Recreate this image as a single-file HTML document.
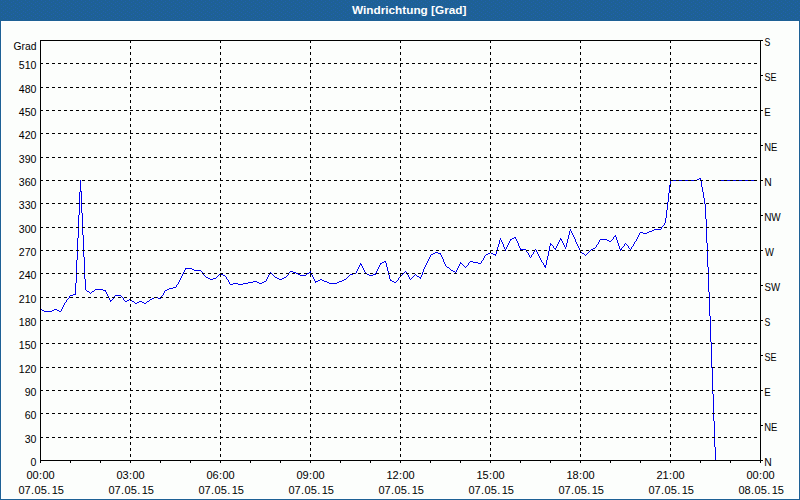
<!DOCTYPE html>
<html><head><meta charset="utf-8"><title>Windrichtung [Grad]</title>
<style>
html,body{margin:0;padding:0;background:#fcfefc;}
body{width:800px;height:500px;overflow:hidden;font-family:"Liberation Sans",sans-serif;}
svg{display:block;position:absolute;left:0;top:0;}
text{font-family:"Liberation Sans",sans-serif;font-size:11px;fill:#000;}
.t{font-weight:bold;fill:#fff;}
.g{stroke:#000;stroke-width:1;stroke-dasharray:3 3;shape-rendering:crispEdges;fill:none;}
.a{stroke:#000;stroke-width:1;shape-rendering:crispEdges;fill:none;}
</style></head><body>
<svg width="800" height="500" viewBox="0 0 800 500">
<rect x="0" y="0" width="800" height="500" fill="#1e6195"/>
<rect x="1" y="21" width="798" height="478" fill="#ffffff"/>
<rect x="2" y="22" width="796" height="476" fill="#fcfefc"/>
<defs><pattern id="dz" width="8" height="4" patternUnits="userSpaceOnUse"><path fill="#2060b0" shape-rendering="crispEdges" d="M1 0h1v1h-1zM5 1h1v1h-1zM3 2h1v1h-1zM7 3h1v1h-1z"/></pattern></defs>
<rect x="0" y="0" width="800" height="21" fill="#1e6195"/>
<rect x="0" y="0" width="800" height="20" fill="url(#dz)"/>
<text class="t" x="409.2" y="14" text-anchor="middle" textLength="114.5" lengthAdjust="spacingAndGlyphs">Windrichtung [Grad]</text>

<path fill="#0000f0" shape-rendering="crispEdges" d="M40 309h2v1h-2zM42 310h2v1h-2zM44 311h8v1h-8zM52 310h2v1h-2zM54 309h3v1h-3zM57 310h2v1h-2zM59 311h2v1h-2zM61 309h1v2h-1zM62 307h1v2h-1zM63 305h1v2h-1zM64 303h1v2h-1zM65 302h1v1h-1zM66 300h1v2h-1zM67 299h1v1h-1zM68 298h1v1h-1zM69 296h1v2h-1zM70 295h3v1h-3zM73 294h3v1h-3zM75 283h1v11h-1zM76 260h1v23h-1zM77 238h1v22h-1zM78 215h1v23h-1zM79 192h1v23h-1zM80 180h1v11h-1zM80 191h2v1h-2zM81 192h1v21h-1zM82 213h1v22h-1zM83 235h1v22h-1zM84 257h1v22h-1zM85 279h1v11h-1zM86 290h1v1h-1zM87 291h2v1h-2zM89 292h1v1h-1zM90 293h1v1h-1zM91 292h1v1h-1zM92 291h2v1h-2zM94 290h1v1h-1zM95 289h8v1h-8zM103 290h3v1h-3zM105 291h1v1h-1zM106 292h1v2h-1zM107 294h1v2h-1zM108 296h1v2h-1zM109 298h1v2h-1zM110 300h2v1h-2zM110 301h1v1h-1zM112 299h1v1h-1zM113 297h1v2h-1zM114 296h1v1h-1zM115 295h6v1h-6zM121 296h1v1h-1zM122 297h1v1h-1zM123 298h1v2h-1zM124 300h1v1h-1zM125 301h2v1h-2zM127 300h2v1h-2zM129 299h2v1h-2zM131 300h1v1h-1zM132 301h2v1h-2zM134 302h1v1h-1zM135 303h2v1h-2zM137 302h2v1h-2zM139 301h3v1h-3zM142 302h2v1h-2zM144 303h2v1h-2zM146 302h1v1h-1zM147 301h2v1h-2zM149 300h1v1h-1zM150 299h2v1h-2zM152 298h2v1h-2zM154 297h4v1h-4zM158 298h3v1h-3zM161 296h1v2h-1zM162 295h1v1h-1zM163 293h1v2h-1zM164 291h1v2h-1zM165 290h2v1h-2zM167 289h2v1h-2zM169 288h4v1h-4zM173 287h3v1h-3zM176 285h1v2h-1zM177 284h1v1h-1zM178 282h1v2h-1zM179 280h1v2h-1zM180 278h1v2h-1zM181 276h1v2h-1zM182 274h1v2h-1zM183 272h1v2h-1zM184 270h1v2h-1zM185 268h7v1h-7zM185 269h1v1h-1zM192 269h2v1h-2zM194 270h7v1h-7zM201 271h1v1h-1zM202 272h1v1h-1zM203 273h1v2h-1zM204 275h1v1h-1zM205 276h1v1h-1zM206 277h2v1h-2zM208 278h2v1h-2zM210 279h3v1h-3zM213 278h3v1h-3zM216 277h1v1h-1zM217 276h1v1h-1zM218 275h1v1h-1zM219 274h1v1h-1zM220 273h1v1h-1zM221 274h2v1h-2zM223 275h2v1h-2zM225 276h1v1h-1zM226 277h1v2h-1zM227 279h1v1h-1zM228 280h1v2h-1zM229 282h1v2h-1zM230 284h3v1h-3zM233 283h5v1h-5zM238 284h5v1h-5zM243 283h5v1h-5zM248 282h5v1h-5zM253 281h4v1h-4zM257 282h2v1h-2zM259 283h3v1h-3zM262 282h2v1h-2zM264 281h2v1h-2zM266 279h1v2h-1zM267 277h1v2h-1zM268 275h1v2h-1zM269 273h1v2h-1zM270 272h1v1h-1zM271 273h1v1h-1zM272 274h1v1h-1zM273 275h1v1h-1zM274 276h1v1h-1zM275 277h2v1h-2zM277 278h2v1h-2zM279 279h3v1h-3zM282 278h2v1h-2zM284 277h2v1h-2zM286 276h1v1h-1zM287 275h1v1h-1zM288 273h1v2h-1zM289 272h1v1h-1zM290 271h3v1h-3zM293 272h3v1h-3zM296 273h2v1h-2zM298 274h2v1h-2zM300 275h6v1h-6zM306 274h1v1h-1zM307 273h2v1h-2zM309 272h2v1h-2zM310 271h1v1h-1zM311 273h1v2h-1zM312 275h1v2h-1zM313 277h1v2h-1zM314 279h1v2h-1zM315 281h3v1h-3zM315 282h1v1h-1zM318 280h2v1h-2zM320 279h2v1h-2zM322 280h2v1h-2zM324 281h3v1h-3zM327 282h2v1h-2zM329 283h8v1h-8zM337 282h2v1h-2zM339 281h3v1h-3zM342 280h2v1h-2zM344 279h2v1h-2zM346 278h1v1h-1zM347 277h1v1h-1zM348 276h1v1h-1zM349 275h1v1h-1zM350 274h3v1h-3zM353 273h3v1h-3zM356 271h1v2h-1zM357 269h1v2h-1zM358 267h1v2h-1zM359 265h1v2h-1zM360 263h1v1h-1zM360 264h2v1h-2zM361 265h1v1h-1zM362 266h1v2h-1zM363 268h1v2h-1zM364 270h1v2h-1zM365 272h1v1h-1zM365 273h2v1h-2zM367 274h2v1h-2zM369 275h4v1h-4zM373 274h3v1h-3zM375 273h1v1h-1zM376 271h1v2h-1zM377 269h1v2h-1zM378 267h1v2h-1zM379 265h1v2h-1zM380 263h2v1h-2zM380 264h1v1h-1zM382 262h2v1h-2zM384 261h2v1h-2zM385 262h1v1h-1zM386 263h1v4h-1zM387 267h1v4h-1zM388 271h1v4h-1zM389 275h1v4h-1zM390 279h1v1h-1zM390 280h2v1h-2zM392 281h2v1h-2zM394 282h2v1h-2zM396 281h1v1h-1zM397 280h1v1h-1zM398 278h1v2h-1zM399 277h1v1h-1zM400 276h1v1h-1zM401 275h1v1h-1zM402 274h1v1h-1zM403 273h1v1h-1zM404 272h1v1h-1zM405 271h1v1h-1zM406 272h1v2h-1zM407 274h1v1h-1zM408 275h1v2h-1zM409 277h1v2h-1zM410 279h1v1h-1zM411 278h1v1h-1zM412 277h1v1h-1zM413 276h1v1h-1zM414 275h1v1h-1zM415 274h1v1h-1zM416 275h1v1h-1zM417 276h2v1h-2zM419 277h2v1h-2zM420 278h1v1h-1zM421 275h1v2h-1zM422 272h1v3h-1zM423 269h1v3h-1zM424 267h1v2h-1zM425 265h1v2h-1zM426 263h1v2h-1zM427 261h1v2h-1zM428 259h1v2h-1zM429 257h1v2h-1zM430 255h1v2h-1zM431 254h2v1h-2zM433 253h2v1h-2zM435 252h3v1h-3zM438 253h3v1h-3zM440 254h1v1h-1zM441 255h1v2h-1zM442 257h1v2h-1zM443 259h1v3h-1zM444 262h1v2h-1zM445 264h1v2h-1zM446 266h1v1h-1zM447 267h2v1h-2zM449 268h1v1h-1zM450 269h1v1h-1zM451 270h2v1h-2zM453 271h2v1h-2zM455 272h1v1h-1zM456 270h1v2h-1zM457 268h1v2h-1zM458 266h1v2h-1zM459 264h1v2h-1zM460 262h1v1h-1zM460 263h2v1h-2zM462 264h1v1h-1zM463 265h1v1h-1zM464 266h1v1h-1zM465 267h1v1h-1zM466 266h1v1h-1zM467 265h1v1h-1zM468 263h1v2h-1zM469 262h1v1h-1zM470 261h3v1h-3zM473 262h5v1h-5zM478 263h3v1h-3zM481 261h1v2h-1zM482 260h1v1h-1zM483 258h1v2h-1zM484 256h1v2h-1zM485 255h1v1h-1zM486 254h2v1h-2zM488 253h2v1h-2zM490 252h1v1h-1zM491 253h2v1h-2zM493 254h3v1h-3zM495 255h1v1h-1zM496 250h1v4h-1zM497 247h1v3h-1zM498 244h1v3h-1zM499 240h1v4h-1zM500 238h1v2h-1zM501 240h1v2h-1zM502 242h1v2h-1zM503 244h1v3h-1zM504 247h1v2h-1zM505 249h1v2h-1zM506 247h1v2h-1zM507 245h1v2h-1zM508 243h1v2h-1zM509 241h1v2h-1zM510 239h2v1h-2zM510 240h1v1h-1zM512 238h2v1h-2zM514 237h2v1h-2zM515 238h1v1h-1zM516 239h1v2h-1zM517 241h1v2h-1zM518 243h1v3h-1zM519 246h1v2h-1zM520 248h1v1h-1zM520 249h6v1h-6zM526 250h1v2h-1zM527 252h1v1h-1zM528 253h1v2h-1zM529 255h1v2h-1zM530 257h1v1h-1zM531 255h1v2h-1zM532 254h1v1h-1zM533 252h1v2h-1zM534 250h1v2h-1zM535 249h1v1h-1zM536 250h1v2h-1zM537 252h1v2h-1zM538 254h1v2h-1zM539 256h1v2h-1zM540 258h1v2h-1zM541 260h1v2h-1zM542 262h1v1h-1zM543 263h1v2h-1zM544 265h2v2h-2zM545 267h1v1h-1zM546 260h1v5h-1zM547 256h1v4h-1zM548 251h1v5h-1zM549 246h1v5h-1zM550 243h1v1h-1zM550 244h2v1h-2zM550 245h1v1h-1zM552 245h1v1h-1zM553 246h1v2h-1zM554 248h2v1h-2zM555 249h1v1h-1zM556 246h1v2h-1zM557 244h1v2h-1zM558 242h1v2h-1zM559 240h1v2h-1zM560 238h1v1h-1zM560 239h2v1h-2zM561 240h1v1h-1zM562 241h1v2h-1zM563 243h1v2h-1zM564 245h1v2h-1zM565 247h1v2h-1zM566 243h1v4h-1zM567 239h1v4h-1zM568 235h1v4h-1zM569 231h1v4h-1zM570 229h1v2h-1zM571 231h1v2h-1zM572 233h1v2h-1zM573 235h1v2h-1zM574 237h1v2h-1zM575 239h1v3h-1zM576 242h1v2h-1zM577 244h1v2h-1zM578 246h1v2h-1zM579 248h1v2h-1zM580 250h1v2h-1zM581 252h1v1h-1zM582 253h2v1h-2zM584 254h1v1h-1zM585 255h1v1h-1zM586 254h1v1h-1zM587 253h1v1h-1zM588 252h1v1h-1zM589 251h1v1h-1zM590 250h1v1h-1zM591 249h2v1h-2zM593 248h2v1h-2zM595 247h1v1h-1zM596 245h1v2h-1zM597 244h1v1h-1zM598 242h1v2h-1zM599 240h1v2h-1zM600 239h7v1h-7zM607 240h2v1h-2zM609 241h2v1h-2zM611 240h1v1h-1zM612 239h1v1h-1zM613 237h1v2h-1zM614 236h2v1h-2zM615 235h1v1h-1zM616 237h1v3h-1zM617 240h1v3h-1zM618 243h1v3h-1zM619 246h1v3h-1zM620 249h2v1h-2zM620 250h1v1h-1zM621 248h1v1h-1zM622 247h1v1h-1zM623 246h1v1h-1zM624 244h1v2h-1zM625 243h1v1h-1zM626 244h1v1h-1zM627 245h1v1h-1zM628 246h1v2h-1zM629 248h1v1h-1zM630 249h1v1h-1zM631 247h1v2h-1zM632 246h1v1h-1zM633 244h1v2h-1zM634 242h1v2h-1zM635 241h1v1h-1zM636 239h1v2h-1zM637 237h1v2h-1zM638 235h1v2h-1zM639 233h1v2h-1zM640 232h3v1h-3zM643 233h4v1h-4zM647 232h2v1h-2zM649 231h3v1h-3zM652 230h2v1h-2zM654 229h7v1h-7zM661 227h1v2h-1zM662 226h1v1h-1zM663 225h1v1h-1zM664 223h1v2h-1zM665 218h1v5h-1zM666 210h1v8h-1zM667 202h1v8h-1zM668 193h1v9h-1zM669 185h1v8h-1zM670 180h27v1h-27zM670 181h1v4h-1zM697 179h2v1h-2zM699 178h2v1h-2zM700 179h1v2h-1zM701 181h1v6h-1zM702 187h1v5h-1zM703 192h1v6h-1zM704 198h1v6h-1zM705 204h1v15h-1zM706 219h1v24h-1zM707 243h1v24h-1zM708 267h1v25h-1zM709 292h1v24h-1zM710 316h1v26h-1zM711 342h1v26h-1zM712 368h1v26h-1zM713 394h1v27h-1zM714 421h1v26h-1zM715 447h1v14h-1zM720 180h36v1h-36z"/>
<line class="g" x1="40" x2="760" y1="437.5" y2="437.5"/>
<line class="g" x1="40" x2="760" y1="413.5" y2="413.5"/>
<line class="g" x1="40" x2="760" y1="390.5" y2="390.5"/>
<line class="g" x1="40" x2="760" y1="367.5" y2="367.5"/>
<line class="g" x1="40" x2="760" y1="343.5" y2="343.5"/>
<line class="g" x1="40" x2="760" y1="320.5" y2="320.5"/>
<line class="g" x1="40" x2="760" y1="297.5" y2="297.5"/>
<line class="g" x1="40" x2="760" y1="273.5" y2="273.5"/>
<line class="g" x1="40" x2="760" y1="250.5" y2="250.5"/>
<line class="g" x1="40" x2="760" y1="227.5" y2="227.5"/>
<line class="g" x1="40" x2="760" y1="203.5" y2="203.5"/>
<line class="g" x1="40" x2="760" y1="180.5" y2="180.5"/>
<line class="g" x1="40" x2="760" y1="157.5" y2="157.5"/>
<line class="g" x1="40" x2="760" y1="133.5" y2="133.5"/>
<line class="g" x1="40" x2="760" y1="110.5" y2="110.5"/>
<line class="g" x1="40" x2="760" y1="87.5" y2="87.5"/>
<line class="g" x1="40" x2="760" y1="63.5" y2="63.5"/>
<line class="g" x1="130.5" x2="130.5" y1="40" y2="460"/>
<line class="g" x1="220.5" x2="220.5" y1="40" y2="460"/>
<line class="g" x1="310.5" x2="310.5" y1="40" y2="460"/>
<line class="g" x1="400.5" x2="400.5" y1="40" y2="460"/>
<line class="g" x1="490.5" x2="490.5" y1="40" y2="460"/>
<line class="g" x1="580.5" x2="580.5" y1="40" y2="460"/>
<line class="g" x1="670.5" x2="670.5" y1="40" y2="460"/>
<rect class="a" x="40.5" y="40.5" width="720" height="420"/>
<line class="a" x1="40.5" x2="40.5" y1="461" y2="463"/>
<line class="a" x1="70.5" x2="70.5" y1="461" y2="463"/>
<line class="a" x1="100.5" x2="100.5" y1="461" y2="463"/>
<line class="a" x1="130.5" x2="130.5" y1="461" y2="463"/>
<line class="a" x1="160.5" x2="160.5" y1="461" y2="463"/>
<line class="a" x1="190.5" x2="190.5" y1="461" y2="463"/>
<line class="a" x1="220.5" x2="220.5" y1="461" y2="463"/>
<line class="a" x1="250.5" x2="250.5" y1="461" y2="463"/>
<line class="a" x1="280.5" x2="280.5" y1="461" y2="463"/>
<line class="a" x1="310.5" x2="310.5" y1="461" y2="463"/>
<line class="a" x1="340.5" x2="340.5" y1="461" y2="463"/>
<line class="a" x1="370.5" x2="370.5" y1="461" y2="463"/>
<line class="a" x1="400.5" x2="400.5" y1="461" y2="463"/>
<line class="a" x1="430.5" x2="430.5" y1="461" y2="463"/>
<line class="a" x1="460.5" x2="460.5" y1="461" y2="463"/>
<line class="a" x1="490.5" x2="490.5" y1="461" y2="463"/>
<line class="a" x1="520.5" x2="520.5" y1="461" y2="463"/>
<line class="a" x1="550.5" x2="550.5" y1="461" y2="463"/>
<line class="a" x1="580.5" x2="580.5" y1="461" y2="463"/>
<line class="a" x1="610.5" x2="610.5" y1="461" y2="463"/>
<line class="a" x1="640.5" x2="640.5" y1="461" y2="463"/>
<line class="a" x1="670.5" x2="670.5" y1="461" y2="463"/>
<line class="a" x1="700.5" x2="700.5" y1="461" y2="463"/>
<line class="a" x1="730.5" x2="730.5" y1="461" y2="463"/>
<line class="a" x1="760.5" x2="760.5" y1="461" y2="463"/>
<line class="a" x1="761" x2="763" y1="40.5" y2="40.5"/>
<line class="a" x1="761" x2="763" y1="75.5" y2="75.5"/>
<line class="a" x1="761" x2="763" y1="110.5" y2="110.5"/>
<line class="a" x1="761" x2="763" y1="145.5" y2="145.5"/>
<line class="a" x1="761" x2="763" y1="180.5" y2="180.5"/>
<line class="a" x1="761" x2="763" y1="215.5" y2="215.5"/>
<line class="a" x1="761" x2="763" y1="250.5" y2="250.5"/>
<line class="a" x1="761" x2="763" y1="285.5" y2="285.5"/>
<line class="a" x1="761" x2="763" y1="320.5" y2="320.5"/>
<line class="a" x1="761" x2="763" y1="355.5" y2="355.5"/>
<line class="a" x1="761" x2="763" y1="390.5" y2="390.5"/>
<line class="a" x1="761" x2="763" y1="425.5" y2="425.5"/>
<line class="a" x1="761" x2="763" y1="460.5" y2="460.5"/>
<text transform="translate(36.4,50) scale(0.94,1)" text-anchor="end">Grad</text>
<text transform="translate(36.4,466) scale(0.96,1)" text-anchor="end">0</text>
<text transform="translate(36.4,443) scale(0.96,1)" text-anchor="end">30</text>
<text transform="translate(36.4,419) scale(0.96,1)" text-anchor="end">60</text>
<text transform="translate(36.4,396) scale(0.96,1)" text-anchor="end">90</text>
<text transform="translate(36.4,373) scale(0.96,1)" text-anchor="end">120</text>
<text transform="translate(36.4,349) scale(0.96,1)" text-anchor="end">150</text>
<text transform="translate(36.4,326) scale(0.96,1)" text-anchor="end">180</text>
<text transform="translate(36.4,303) scale(0.96,1)" text-anchor="end">210</text>
<text transform="translate(36.4,279) scale(0.96,1)" text-anchor="end">240</text>
<text transform="translate(36.4,256) scale(0.96,1)" text-anchor="end">270</text>
<text transform="translate(36.4,233) scale(0.96,1)" text-anchor="end">300</text>
<text transform="translate(36.4,209) scale(0.96,1)" text-anchor="end">330</text>
<text transform="translate(36.4,186) scale(0.96,1)" text-anchor="end">360</text>
<text transform="translate(36.4,163) scale(0.96,1)" text-anchor="end">390</text>
<text transform="translate(36.4,139) scale(0.96,1)" text-anchor="end">420</text>
<text transform="translate(36.4,116) scale(0.96,1)" text-anchor="end">450</text>
<text transform="translate(36.4,93) scale(0.96,1)" text-anchor="end">480</text>
<text transform="translate(36.4,69) scale(0.96,1)" text-anchor="end">510</text>
<text transform="translate(764.6,46) scale(0.794,1)">S</text>
<text transform="translate(764.59,81) scale(0.821,1)">SE</text>
<text transform="translate(764.21,116) scale(0.875,1)">E</text>
<text transform="translate(764.22,151) scale(0.863,1)">NE</text>
<text transform="translate(764.15,186) scale(0.943,1)">N</text>
<text transform="translate(764.19,221) scale(0.905,1)">NW</text>
<text transform="translate(764.91,256) scale(0.858,1)">W</text>
<text transform="translate(764.56,291) scale(0.877,1)">SW</text>
<text transform="translate(764.6,326) scale(0.794,1)">S</text>
<text transform="translate(764.59,361) scale(0.821,1)">SE</text>
<text transform="translate(764.21,396) scale(0.875,1)">E</text>
<text transform="translate(764.22,431) scale(0.863,1)">NE</text>
<text transform="translate(764.15,466) scale(0.943,1)">N</text>
<text x="26.4" y="479">00<tspan dx="0.3">:</tspan><tspan dx="0.4">00</tspan></text>
<text x="18.5" y="494">07<tspan dx="0.3">.</tspan><tspan dx="0.5">05</tspan><tspan dx="0.4">.</tspan><tspan dx="1.4">15</tspan></text>
<text x="116.4" y="479">03<tspan dx="0.3">:</tspan><tspan dx="0.4">00</tspan></text>
<text x="108.5" y="494">07<tspan dx="0.3">.</tspan><tspan dx="0.5">05</tspan><tspan dx="0.4">.</tspan><tspan dx="1.4">15</tspan></text>
<text x="206.4" y="479">06<tspan dx="0.3">:</tspan><tspan dx="0.4">00</tspan></text>
<text x="198.5" y="494">07<tspan dx="0.3">.</tspan><tspan dx="0.5">05</tspan><tspan dx="0.4">.</tspan><tspan dx="1.4">15</tspan></text>
<text x="296.4" y="479">09<tspan dx="0.3">:</tspan><tspan dx="0.4">00</tspan></text>
<text x="288.5" y="494">07<tspan dx="0.3">.</tspan><tspan dx="0.5">05</tspan><tspan dx="0.4">.</tspan><tspan dx="1.4">15</tspan></text>
<text x="386.4" y="479">12<tspan dx="0.3">:</tspan><tspan dx="0.4">00</tspan></text>
<text x="378.5" y="494">07<tspan dx="0.3">.</tspan><tspan dx="0.5">05</tspan><tspan dx="0.4">.</tspan><tspan dx="1.4">15</tspan></text>
<text x="476.4" y="479">15<tspan dx="0.3">:</tspan><tspan dx="0.4">00</tspan></text>
<text x="468.5" y="494">07<tspan dx="0.3">.</tspan><tspan dx="0.5">05</tspan><tspan dx="0.4">.</tspan><tspan dx="1.4">15</tspan></text>
<text x="566.4" y="479">18<tspan dx="0.3">:</tspan><tspan dx="0.4">00</tspan></text>
<text x="558.5" y="494">07<tspan dx="0.3">.</tspan><tspan dx="0.5">05</tspan><tspan dx="0.4">.</tspan><tspan dx="1.4">15</tspan></text>
<text x="656.4" y="479">21<tspan dx="0.3">:</tspan><tspan dx="0.4">00</tspan></text>
<text x="648.5" y="494">07<tspan dx="0.3">.</tspan><tspan dx="0.5">05</tspan><tspan dx="0.4">.</tspan><tspan dx="1.4">15</tspan></text>
<text x="746.4" y="479">00<tspan dx="0.3">:</tspan><tspan dx="0.4">00</tspan></text>
<text x="738.5" y="494">08<tspan dx="0.3">.</tspan><tspan dx="0.5">05</tspan><tspan dx="0.4">.</tspan><tspan dx="1.4">15</tspan></text>
</svg></body></html>
